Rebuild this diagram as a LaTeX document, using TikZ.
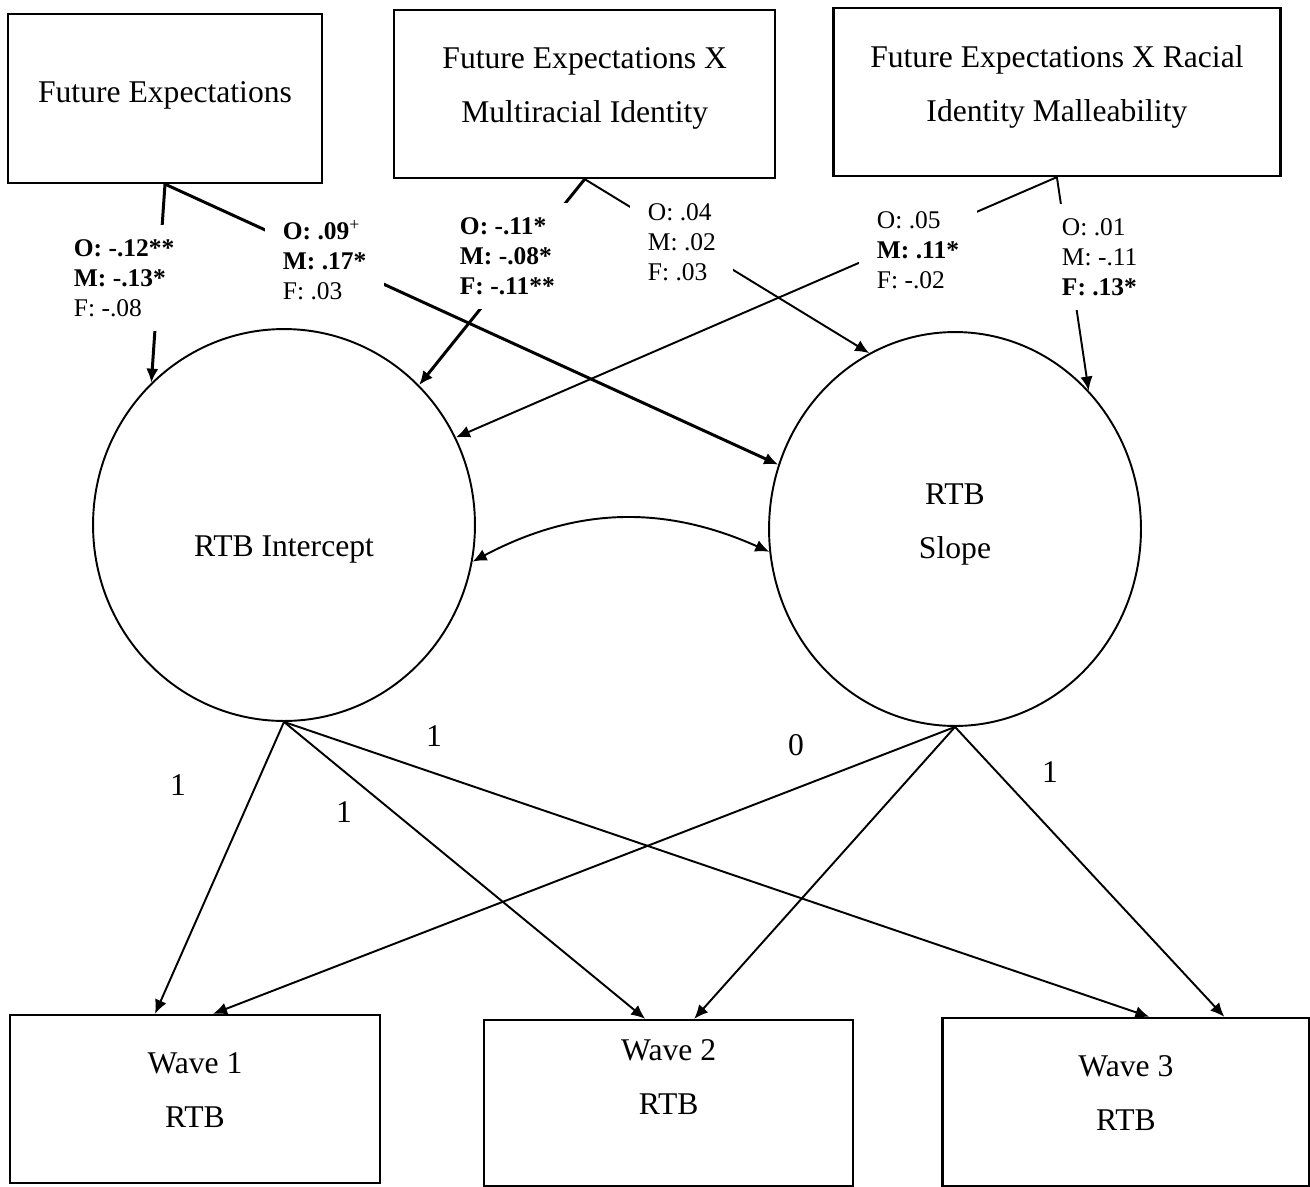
\documentclass[tikz,border=0pt]{standalone}
\usepackage{fontspec}
\setmainfont{Liberation Serif}
\usetikzlibrary{positioning,arrows.meta,shapes.geometric}
\newcommand{\padbelow}[1]{\rule[-#1]{0pt}{#1}}

\begin{document}
\begin{tikzpicture}[x=0.02cm,y=-0.02cm,>={Latex[length=8pt,width=7pt]},
        box node/.style={rectangle, draw, line width=1.3pt, inner sep=0pt, align=center,
        minimum height=3.36cm, font=\fontsize{18}{30.6}\selectfont},
        latent node/.style={ellipse, draw, line width=1.1pt, inner sep=0pt, align=center,
        font=\fontsize{18}{30.6}\selectfont},
        coef node/.style={fill=white, inner xsep=10pt, inner ysep=8pt, anchor=west,
        align=left, font=\fontsize{14.5}{17}\selectfont},
        load node/.style={font=\fontsize{18}{20}\selectfont},
        thin arrow/.style={->, line width=1.1pt},
        thick arrow/.style={->, line width=1.7pt}
        ]
        \useasboundingbox (0,0) rectangle (1310,1186);

        % predictors
        \node [box node, minimum width=6.28cm, minimum height=3.38cm] (fe) at (165,98.5) {Future Expectations\padbelow{7.5pt}};
        \node [box node, minimum width=7.62cm, right=1.4cm of fe, yshift=0.09cm] (femi) {Future Expectations X\\Multiracial Identity\padbelow{10pt}};
        \node [box node, minimum width=8.94cm, right=1.12cm of femi, yshift=0.04cm] (ferim) {Future Expectations X Racial\\Identity Malleability\padbelow{10pt}};

        % growth factors
        \node [latent node, minimum width=7.64cm, minimum height=7.84cm] (int) at (284,525) {\rule{0pt}{39.5pt}RTB Intercept};
        \node [latent node, minimum width=7.44cm, minimum height=7.88cm] (slope) at (955,529) {RTB\\Slope\padbelow{9pt}};

        % waves
        \node [box node, minimum width=7.4cm] (w1) at (195,1099) {Wave 1\\RTB\padbelow{10pt}};
        \node [box node, minimum width=7.38cm, minimum height=3.32cm, right=2.04cm of w1, yshift=-0.08cm] (w2) {Wave 2\\RTB\padbelow{30pt}};
        \node [box node, minimum width=7.34cm, right=1.74cm of w2, yshift=0.02cm] (w3) {Wave 3\\RTB\padbelow{10pt}};

        \draw [thick arrow] (fe.south) -- (int.133.7);
        \draw [thick arrow] (fe.south) -- (slope.160.4);
        \draw [thick arrow] (femi.south) -- (int.46.9);
        \draw [thin arrow] (femi.south) -- (slope.116.2);
        \draw [thin arrow] (ferim.south) -- (int.27.2);
        \draw [thin arrow] (ferim.south) -- (slope.46.8);
        \draw [thin arrow, <->] (int.-11) to [bend left=26] (slope.187);

        \draw [thin arrow] (int.south) -- ([xshift=-0.8cm]w1.north);
        \draw [thin arrow] (int.south) -- ([xshift=-0.47cm]w2.north);
        \draw [thin arrow] (int.south) -- ([xshift=0.47cm]w3.north);
        \draw [thin arrow] (slope.south) -- ([xshift=0.36cm]w1.north);
        \draw [thin arrow] (slope.south) -- ([xshift=0.51cm]w2.north);
        \draw [thin arrow] (slope.south) -- ([xshift=1.97cm]w3.north);

        % path estimates
        \node [coef node] (c1) at (56,278) {\textbf{O: -.12**}\\\textbf{M: -.13*}\\F: -.08};
        \node [coef node] (c2) at (265,260) {\textbf{O: .09}\textsuperscript{+}\\\textbf{M: .17*}\\F: .03};
        \node [coef node] (c3) at (442,256) {\textbf{O: -.11*}\\\textbf{M: -.08*}\\\textbf{F: -.11**}};
        \node [coef node] (c4) at (630,242) {O: .04\\M: .02\\F: .03};
        \node [coef node] (c5) at (859,250) {O: .05\\\textbf{M: .11*}\\F: -.02};
        \node [coef node] (c6) at (1044,257) {O: .01\\M: -.11\\\textbf{F: .13*}};

        % loadings
        \node [load node] (l1) at (178,785) {1};
        \node [load node] (l2) at (344,812) {1};
        \node [load node] (l3) at (434,736) {1};
        \node [load node] (l4) at (796,745) {0};
        \node [load node] (l5) at (1050,772) {1};
\end{tikzpicture}
\end{document}
